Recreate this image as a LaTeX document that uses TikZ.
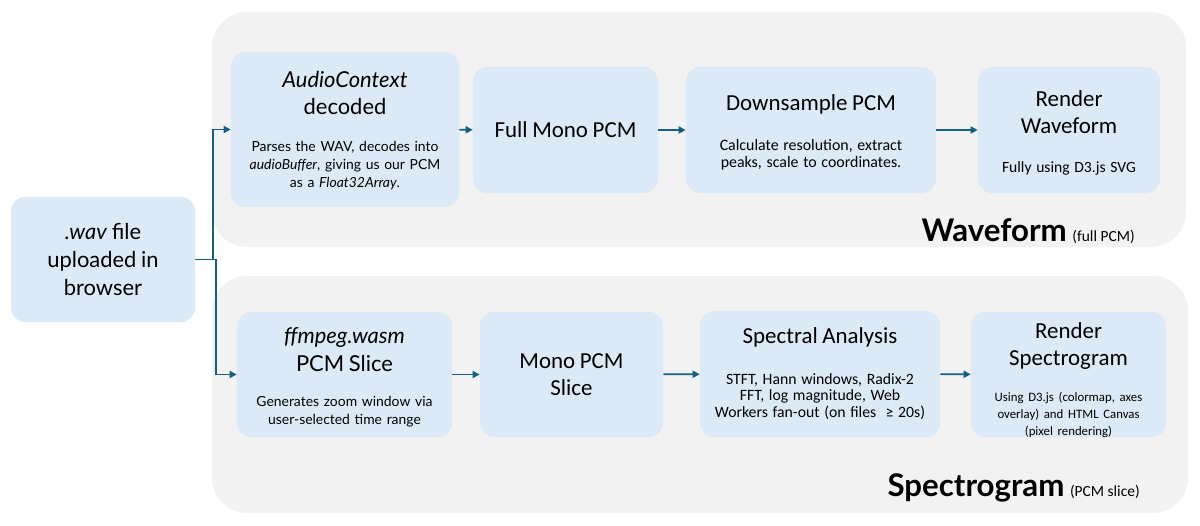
\documentclass[tikz,border=0pt]{standalone}
\usepackage{fontspec}
\setmainfont{Lato}
\newfontfamily\narrowfont{Carlito}
\usetikzlibrary{arrows.meta}

\definecolor{panelgray}{HTML}{F2F2F2}
\definecolor{stageblue}{HTML}{DCEAF7}
\definecolor{flowblue}{HTML}{156082}

\newcommand{\headsize}{\fontsize{15.6}{19.6}\selectfont}
\newcommand{\narrowhead}{\narrowfont\fontsize{16.3}{19.3}\selectfont}
\newcommand{\notesize}{\fontsize{9.9}{12.8}\selectfont}
\newcommand{\narrownote}{\narrowfont\fontsize{11.3}{12}\selectfont}
% pull the text block down inside its box
\newcommand{\lowerby}[1]{\par\vskip-#1\hrule height0pt width0pt}

\begin{document}
\begin{tikzpicture}[x=0.025cm, y=-0.025cm,
    panel/.style={fill=panelgray, rounded corners=25pt},
    stage/.style={fill=stageblue, rounded corners=10pt, align=center,
      inner xsep=0pt, inner ysep=0pt, text width=#1, minimum height=3.15cm},
    flow/.style={->, flowblue, line width=1.2pt},
    >={Triangle[length=5pt, width=5pt]}]

    \useasboundingbox (0,0) rectangle (1200,525);

    % two grey panels, one for each path
    \fill[panel] (212,12) rectangle (1186,247);
    \fill[panel] (212,276) rectangle (1188,513);

    % the uploaded file on the left
    \node[stage=4.6cm, minimum height=3.125cm] (wav) at (103,259.5)
      {\headsize\textit{.wav} file\\uploaded in\\browser\par};

    % top row: waveform from the full PCM
    \node[stage=5.7cm, minimum height=3.875cm] (audio) at (345,129.5)
      {{\headsize\textit{AudioContext}\\decoded\par}\vspace{13.6pt}
       {\notesize Parses the WAV, decodes into\\\textit{audioBuffer}, giving us our PCM\\as a \textit{Float32Array}.\par}\lowerby{1.4pt}};
    \node[stage=4.625cm] (fullmono) at (565.5,130)
      {\narrowhead Full Mono PCM\par};
    \node[stage=6.25cm] (downsample) at (811,130)
      {{\narrowhead Downsample PCM\par}\vspace{16.5pt}
       {\narrownote Calculate resolution, extract\\peaks, scale to coordinates.\par}\lowerby{3pt}};
    \node[stage=4.55cm] (renderwave) at (1069,130)
      {{\narrowhead Render\\Waveform\par}\vspace{15.5pt}
       {\narrowfont\fontsize{11.1}{12}\selectfont Fully using D3.js SVG\par}\lowerby{4.2pt}};

    % bottom row: spectrogram from a PCM slice
    \node[stage=5.375cm, minimum height=3.125cm] (ffmpeg) at (344.5,374.5)
      {{\headsize\textit{ffmpeg.wasm}\\PCM Slice\par}\vspace{12.2pt}
       {\notesize Generates zoom window via\\user-selected time range\par}\lowerby{4.2pt}};
    \node[stage=4.575cm, minimum height=3.125cm] (monoslice) at (571.5,374.5)
      {\narrowhead Mono PCM\\Slice\par};
    \node[stage=6cm] (spectral) at (820,374)
      {{\narrowhead Spectral Analysis\par}\vspace{16.5pt}
       {\narrowfont\fontsize{11.2}{12}\selectfont STFT, Hann windows, Radix-2\\FFT, log magnitude, Web\\Workers fan-out (on files \ ≥ 20s)\par}};
    \node[stage=4.875cm, minimum height=3.125cm] (renderspec) at (1068.5,374.5)
      {{\narrowhead Render\\Spectrogram\par}\vspace{14pt}
       {\narrowfont\fontsize{9.1}{12}\selectfont Using D3.js (colormap, axes\\overlay) and HTML Canvas\\(pixel rendering)\par}\lowerby{8pt}};

    % panel titles
    \node[anchor=base east, inner sep=0pt] (wavetitle) at (1135,241)
      {{\fontsize{22.2}{26}\selectfont\bfseries Waveform}\hspace{4pt}{\narrowfont\fontsize{11}{13}\selectfont(full PCM)}};
    \node[anchor=base east, inner sep=0pt] (spectitle) at (1140,496)
      {{\fontsize{22.2}{26}\selectfont\bfseries Spectrogram}\hspace{4pt}{\narrowfont\fontsize{11}{13}\selectfont(PCM slice)}};

    % the file splits into both paths
    \draw[flow] (wav.east) -- ++(18,0) |- (audio.west);
    \draw[flow] (wav.east) -- ++(21,0) |- (ffmpeg.west);

    % arrows along each row
    \draw[flow] (audio) -- (fullmono);
    \draw[flow] (fullmono) -- (downsample);
    \draw[flow] (downsample) -- (renderwave);
    \draw[flow] (ffmpeg) -- (monoslice);
    \draw[flow] (monoslice) -- (spectral);
    \draw[flow] (spectral) -- (renderspec);

\end{tikzpicture}
\end{document}
